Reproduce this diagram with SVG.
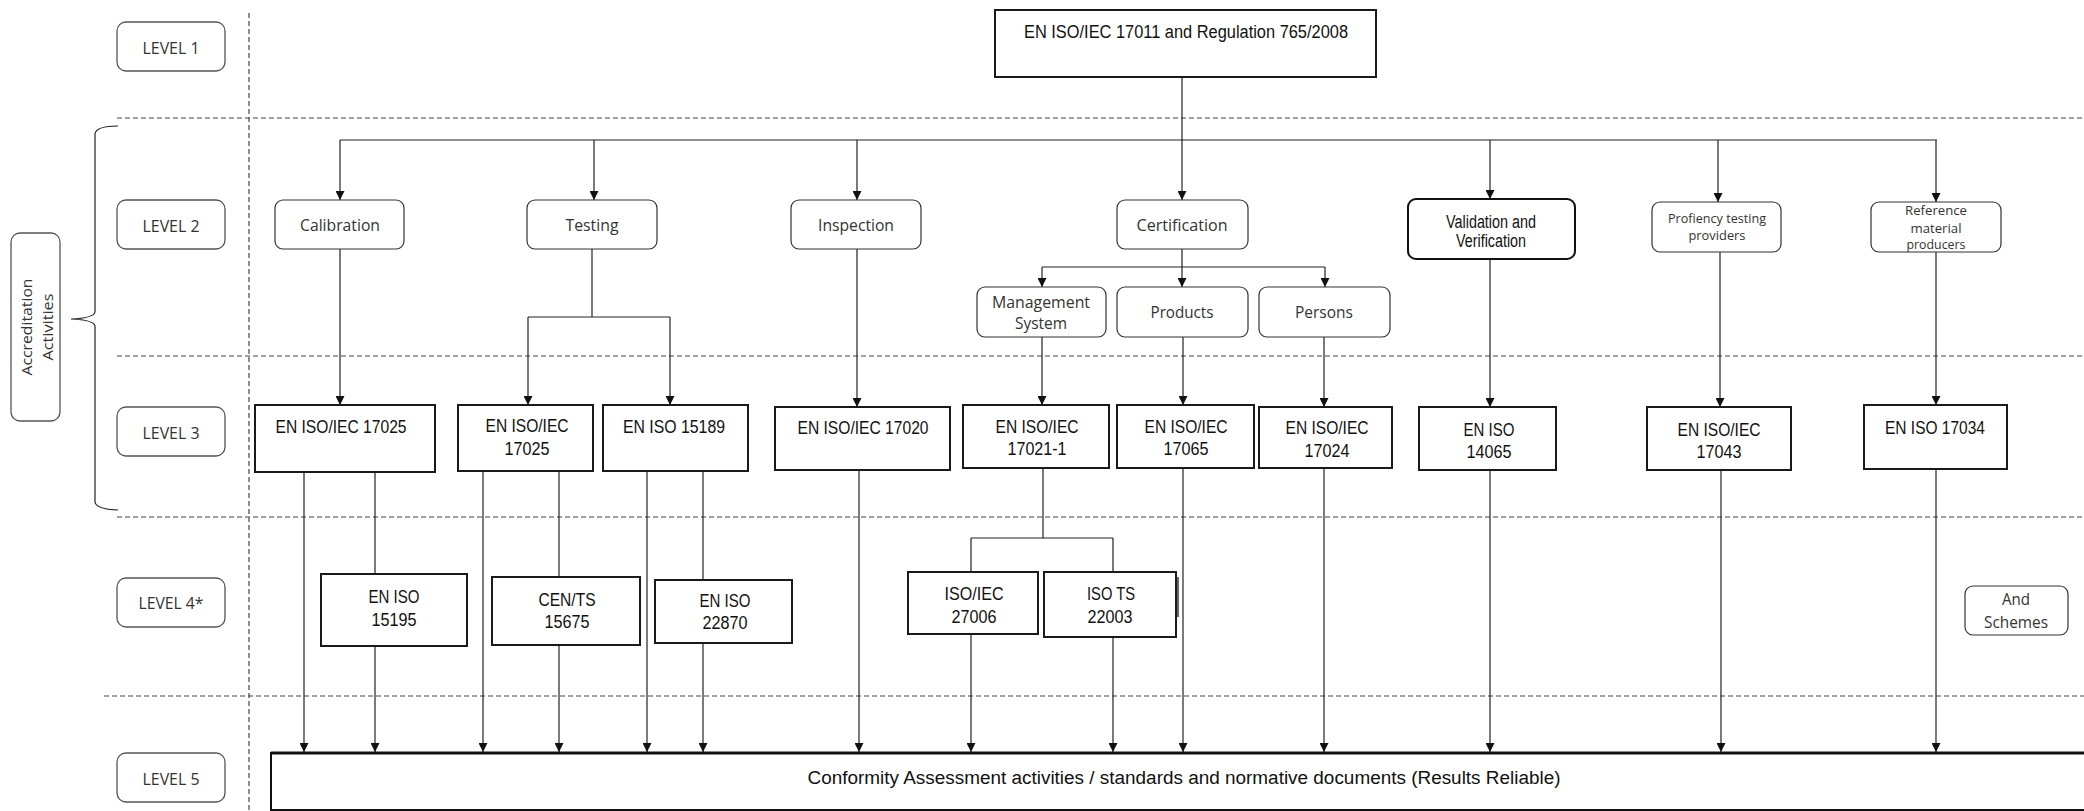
<svg xmlns="http://www.w3.org/2000/svg" width="2084" height="811" viewBox="0 0 2084 811">
<style>
.bg{fill:#fff}
.lv{fill:#fff;stroke:#555;stroke-width:1.3}
.rb{fill:#fff;stroke:#333;stroke-width:1.2}
.rbk{fill:#fff;stroke:#111;stroke-width:2}
.sq{fill:#fff;stroke:#1a1a1a;stroke-width:2}
.c{font-family:"Open Sans","Noto Sans",sans-serif;fill:#333;text-anchor:middle;dominant-baseline:central}
.n{font-family:"Liberation Sans",Arial,sans-serif;fill:#111;text-anchor:middle;dominant-baseline:central;font-size:18px}
.cn{stroke:#222;stroke-width:1.2;fill:none}
.ds{stroke:#444;stroke-width:1.2;stroke-dasharray:5 3;fill:none}
</style>
<defs>
<marker id="ah" markerUnits="userSpaceOnUse" markerWidth="9" markerHeight="9" viewBox="0 0 9 9" refX="9" refY="4.5" orient="auto">
<path d="M0,0 L9,4.5 L0,9 Z" fill="#111"/>
</marker>
</defs>
<rect class="bg" x="0" y="0" width="2084" height="811"/>

<g id="guides">
<line class="ds" x1="249" y1="13" x2="249" y2="811"/>
<line class="ds" x1="117" y1="118" x2="2084" y2="118"/>
<line class="ds" x1="117" y1="356" x2="2084" y2="356"/>
<line class="ds" x1="117" y1="517" x2="2084" y2="517"/>
<line class="ds" x1="104" y1="696" x2="2084" y2="696"/>
<path class="cn" d="M118,126 Q96,126 95,134 L95,312 Q94,318 71,319 Q94,320 95,326 L95,502 Q96,509 118,510"/>
</g>

<g id="accreditation">
<rect class="lv" x="11" y="233" width="49" height="188" rx="9"/>
<text class="c" font-size="15" transform="translate(26 327) rotate(-90)" textLength="97" lengthAdjust="spacingAndGlyphs">Accreditation</text>
<text class="c" font-size="15" transform="translate(47 327) rotate(-90)" textLength="67" lengthAdjust="spacingAndGlyphs">Activities</text>
</g>

<g id="level1"><rect class="lv" x="117" y="22" width="108" height="49" rx="9"/><text class="c" font-size="17" x="171" y="47" textLength="57" lengthAdjust="spacingAndGlyphs">LEVEL 1</text></g>
<g id="level2"><rect class="lv" x="117" y="200" width="108" height="49" rx="9"/><text class="c" font-size="17" x="171" y="225" textLength="57" lengthAdjust="spacingAndGlyphs">LEVEL 2</text></g>
<g id="level3"><rect class="lv" x="117" y="407" width="108" height="49" rx="9"/><text class="c" font-size="17" x="171" y="432" textLength="57" lengthAdjust="spacingAndGlyphs">LEVEL 3</text></g>
<g id="level4"><rect class="lv" x="117" y="578" width="108" height="49" rx="9"/><text class="c" font-size="17" x="171" y="602" textLength="65" lengthAdjust="spacingAndGlyphs">LEVEL 4*</text></g>
<g id="level5"><rect class="lv" x="117" y="753" width="108" height="49" rx="9"/><text class="c" font-size="17" x="171" y="778" textLength="57" lengthAdjust="spacingAndGlyphs">LEVEL 5</text></g>

<g id="connectors">
<line class="cn" x1="1182" y1="77" x2="1182" y2="200" marker-end="url(#ah)"/>
<line class="cn" x1="340" y1="140" x2="1937" y2="140"/>
<line class="cn" x1="340" y1="140" x2="340" y2="200" marker-end="url(#ah)"/>
<line class="cn" x1="594" y1="140" x2="594" y2="200" marker-end="url(#ah)"/>
<line class="cn" x1="857" y1="140" x2="857" y2="200" marker-end="url(#ah)"/>
<line class="cn" x1="1490" y1="140" x2="1490" y2="199" marker-end="url(#ah)"/>
<line class="cn" x1="1718" y1="140" x2="1718" y2="202" marker-end="url(#ah)"/>
<line class="cn" x1="1936" y1="140" x2="1936" y2="202" marker-end="url(#ah)"/>
<line class="cn" x1="340" y1="249" x2="340" y2="405" marker-end="url(#ah)"/>
<path class="cn" d="M592,249 V317 M528,317 H670"/>
<line class="cn" x1="528" y1="317" x2="528" y2="405" marker-end="url(#ah)"/>
<line class="cn" x1="670" y1="317" x2="670" y2="405" marker-end="url(#ah)"/>
<line class="cn" x1="857" y1="249" x2="857" y2="407" marker-end="url(#ah)"/>
<path class="cn" d="M1182,249 V267 M1042,267 H1325"/>
<line class="cn" x1="1042" y1="267" x2="1042" y2="287" marker-end="url(#ah)"/>
<line class="cn" x1="1182" y1="267" x2="1182" y2="287" marker-end="url(#ah)"/>
<line class="cn" x1="1325" y1="267" x2="1325" y2="287" marker-end="url(#ah)"/>
<line class="cn" x1="1042" y1="337" x2="1042" y2="405" marker-end="url(#ah)"/>
<line class="cn" x1="1183" y1="337" x2="1183" y2="405" marker-end="url(#ah)"/>
<line class="cn" x1="1324" y1="337" x2="1324" y2="407" marker-end="url(#ah)"/>
<line class="cn" x1="1490" y1="259" x2="1490" y2="407" marker-end="url(#ah)"/>
<line class="cn" x1="1720" y1="252" x2="1720" y2="407" marker-end="url(#ah)"/>
<line class="cn" x1="1936" y1="252" x2="1936" y2="405" marker-end="url(#ah)"/>
<line class="cn" x1="304" y1="472" x2="304" y2="752" marker-end="url(#ah)"/>
<line class="cn" x1="375" y1="472" x2="375" y2="574"/>
<line class="cn" x1="375" y1="646" x2="375" y2="752" marker-end="url(#ah)"/>
<line class="cn" x1="483" y1="471" x2="483" y2="752" marker-end="url(#ah)"/>
<line class="cn" x1="559" y1="471" x2="559" y2="577"/>
<line class="cn" x1="559" y1="645" x2="559" y2="752" marker-end="url(#ah)"/>
<line class="cn" x1="647" y1="471" x2="647" y2="752" marker-end="url(#ah)"/>
<line class="cn" x1="703" y1="471" x2="703" y2="580"/>
<line class="cn" x1="703" y1="643" x2="703" y2="752" marker-end="url(#ah)"/>
<line class="cn" x1="859" y1="470" x2="859" y2="752" marker-end="url(#ah)"/>
<path class="cn" d="M1043,468 V538 M971,538 H1113 M971,538 V572 M1113,538 V572"/>
<line class="cn" x1="971" y1="634" x2="971" y2="752" marker-end="url(#ah)"/>
<line class="cn" x1="1113" y1="637" x2="1113" y2="752" marker-end="url(#ah)"/>
<line class="cn" x1="1183" y1="468" x2="1183" y2="752" marker-end="url(#ah)"/>
<line class="cn" x1="1324" y1="468" x2="1324" y2="752" marker-end="url(#ah)"/>
<line class="cn" x1="1490" y1="470" x2="1490" y2="752" marker-end="url(#ah)"/>
<line class="cn" x1="1721" y1="470" x2="1721" y2="752" marker-end="url(#ah)"/>
<line class="cn" x1="1936" y1="469" x2="1936" y2="752" marker-end="url(#ah)"/>
</g>

<g id="top"><rect class="sq" x="995" y="10" width="381" height="67"/><text class="n" x="1186" y="32" textLength="324" lengthAdjust="spacingAndGlyphs">EN ISO/IEC 17011 and Regulation 765/2008</text></g>

<g id="calibration"><rect class="rb" x="275" y="200" width="129" height="49" rx="8"/><text class="c" font-size="16" x="340" y="225" textLength="80" lengthAdjust="spacingAndGlyphs">Calibration</text></g>
<g id="testing"><rect class="rb" x="527" y="200" width="130" height="49" rx="8"/><text class="c" font-size="16" x="592" y="225" textLength="53" lengthAdjust="spacingAndGlyphs">Testing</text></g>
<g id="inspection"><rect class="rb" x="791" y="200" width="130" height="49" rx="8"/><text class="c" font-size="16" x="856" y="225" textLength="76" lengthAdjust="spacingAndGlyphs">Inspection</text></g>
<g id="certification"><rect class="rb" x="1117" y="200" width="131" height="49" rx="8"/><text class="c" font-size="16" x="1182" y="225" textLength="91" lengthAdjust="spacingAndGlyphs">Certification</text></g>
<g id="validation"><rect class="rbk" x="1408" y="199" width="167" height="60" rx="8"/><text class="n" font-size="17" x="1491" y="222" textLength="90" lengthAdjust="spacingAndGlyphs">Validation and</text><text class="n" font-size="17" x="1491" y="241" textLength="70" lengthAdjust="spacingAndGlyphs">Verification</text></g>
<g id="proficiency"><rect class="rb" x="1652" y="202" width="129" height="50" rx="8"/><text class="c" font-size="13" x="1717" y="218" textLength="98" lengthAdjust="spacingAndGlyphs">Profiency testing</text><text class="c" font-size="13" x="1717" y="235" textLength="57" lengthAdjust="spacingAndGlyphs">providers</text></g>
<g id="reference"><rect class="rb" x="1871" y="202" width="130" height="50" rx="8"/><text class="c" font-size="12" x="1936" y="210" textLength="62" lengthAdjust="spacingAndGlyphs">Reference</text><text class="c" font-size="12" x="1936" y="228" textLength="51" lengthAdjust="spacingAndGlyphs">material</text><text class="c" font-size="12" x="1936" y="244" textLength="59" lengthAdjust="spacingAndGlyphs">producers</text></g>

<g id="management"><rect class="rb" x="977" y="287" width="129" height="50" rx="8"/><text class="c" font-size="16" x="1041" y="302" textLength="98" lengthAdjust="spacingAndGlyphs">Management</text><text class="c" font-size="16" x="1041" y="323" textLength="52" lengthAdjust="spacingAndGlyphs">System</text></g>
<g id="products"><rect class="rb" x="1117" y="287" width="131" height="50" rx="8"/><text class="c" font-size="16" x="1182" y="312" textLength="63" lengthAdjust="spacingAndGlyphs">Products</text></g>
<g id="persons"><rect class="rb" x="1259" y="287" width="131" height="50" rx="8"/><text class="c" font-size="16" x="1324" y="312" textLength="58" lengthAdjust="spacingAndGlyphs">Persons</text></g>

<g id="s17025a"><rect class="sq" x="255" y="405" width="180" height="67"/><text class="n" x="341" y="427" textLength="131" lengthAdjust="spacingAndGlyphs">EN ISO/IEC 17025</text></g>
<g id="s17025b"><rect class="sq" x="458" y="405" width="135" height="66"/><text class="n" x="527" y="426" textLength="83" lengthAdjust="spacingAndGlyphs">EN ISO/IEC</text><text class="n" x="527" y="449" textLength="45" lengthAdjust="spacingAndGlyphs">17025</text></g>
<g id="s15189"><rect class="sq" x="603" y="405" width="145" height="66"/><text class="n" x="674" y="427" textLength="102" lengthAdjust="spacingAndGlyphs">EN ISO 15189</text></g>
<g id="s17020"><rect class="sq" x="775" y="407" width="175" height="63"/><text class="n" x="863" y="428" textLength="131" lengthAdjust="spacingAndGlyphs">EN ISO/IEC 17020</text></g>
<g id="s17021"><rect class="sq" x="963" y="405" width="146" height="63"/><text class="n" x="1037" y="427" textLength="83" lengthAdjust="spacingAndGlyphs">EN ISO/IEC</text><text class="n" x="1037" y="449" textLength="59" lengthAdjust="spacingAndGlyphs">17021-1</text></g>
<g id="s17065"><rect class="sq" x="1117" y="405" width="137" height="63"/><text class="n" x="1186" y="427" textLength="83" lengthAdjust="spacingAndGlyphs">EN ISO/IEC</text><text class="n" x="1186" y="449" textLength="45" lengthAdjust="spacingAndGlyphs">17065</text></g>
<g id="s17024"><rect class="sq" x="1259" y="407" width="133" height="61"/><text class="n" x="1327" y="428" textLength="83" lengthAdjust="spacingAndGlyphs">EN ISO/IEC</text><text class="n" x="1327" y="451" textLength="45" lengthAdjust="spacingAndGlyphs">17024</text></g>
<g id="s14065"><rect class="sq" x="1419" y="407" width="137" height="63"/><text class="n" x="1489" y="430" textLength="51" lengthAdjust="spacingAndGlyphs">EN ISO</text><text class="n" x="1489" y="452" textLength="45" lengthAdjust="spacingAndGlyphs">14065</text></g>
<g id="s17043"><rect class="sq" x="1647" y="407" width="144" height="63"/><text class="n" x="1719" y="430" textLength="83" lengthAdjust="spacingAndGlyphs">EN ISO/IEC</text><text class="n" x="1719" y="452" textLength="45" lengthAdjust="spacingAndGlyphs">17043</text></g>
<g id="s17034"><rect class="sq" x="1864" y="405" width="143" height="64"/><text class="n" x="1935" y="428" textLength="100" lengthAdjust="spacingAndGlyphs">EN ISO 17034</text></g>

<g id="s15195"><rect class="sq" x="321" y="574" width="146" height="72"/><text class="n" x="394" y="597" textLength="51" lengthAdjust="spacingAndGlyphs">EN ISO</text><text class="n" x="394" y="620" textLength="45" lengthAdjust="spacingAndGlyphs">15195</text></g>
<g id="s15675"><rect class="sq" x="492" y="577" width="148" height="68"/><text class="n" x="567" y="600" textLength="57" lengthAdjust="spacingAndGlyphs">CEN/TS</text><text class="n" x="567" y="622" textLength="45" lengthAdjust="spacingAndGlyphs">15675</text></g>
<g id="s22870"><rect class="sq" x="655" y="580" width="137" height="63"/><text class="n" x="725" y="601" textLength="51" lengthAdjust="spacingAndGlyphs">EN ISO</text><text class="n" x="725" y="623" textLength="45" lengthAdjust="spacingAndGlyphs">22870</text></g>
<g id="s27006"><rect class="sq" x="908" y="572" width="130" height="62"/><text class="n" x="974" y="594" textLength="59" lengthAdjust="spacingAndGlyphs">ISO/IEC</text><text class="n" x="974" y="617" textLength="45" lengthAdjust="spacingAndGlyphs">27006</text></g>
<g id="s22003"><rect class="sq" x="1044" y="572" width="132" height="65"/><line x1="1178" y1="577" x2="1178" y2="617" stroke="#333" stroke-width="1.5"/><text class="n" x="1111" y="594" textLength="48" lengthAdjust="spacingAndGlyphs">ISO TS</text><text class="n" x="1110" y="617" textLength="45" lengthAdjust="spacingAndGlyphs">22003</text></g>
<g id="schemes"><rect class="rb" x="1965" y="586" width="103" height="49" rx="8"/><text class="c" font-size="16" x="2016" y="599" textLength="28" lengthAdjust="spacingAndGlyphs">And</text><text class="c" font-size="16" x="2016" y="622" textLength="64" lengthAdjust="spacingAndGlyphs">Schemes</text></g>

<g id="conformity"><rect x="271" y="753" width="1820" height="57" fill="#fff" stroke="#111" stroke-width="2"/><line x1="271" y1="753" x2="2084" y2="753" stroke="#111" stroke-width="3"/><text class="n" font-size="22" x="1184" y="778" textLength="753" lengthAdjust="spacingAndGlyphs">Conformity Assessment activities / standards and normative documents (Results Reliable)</text></g>
</svg>
